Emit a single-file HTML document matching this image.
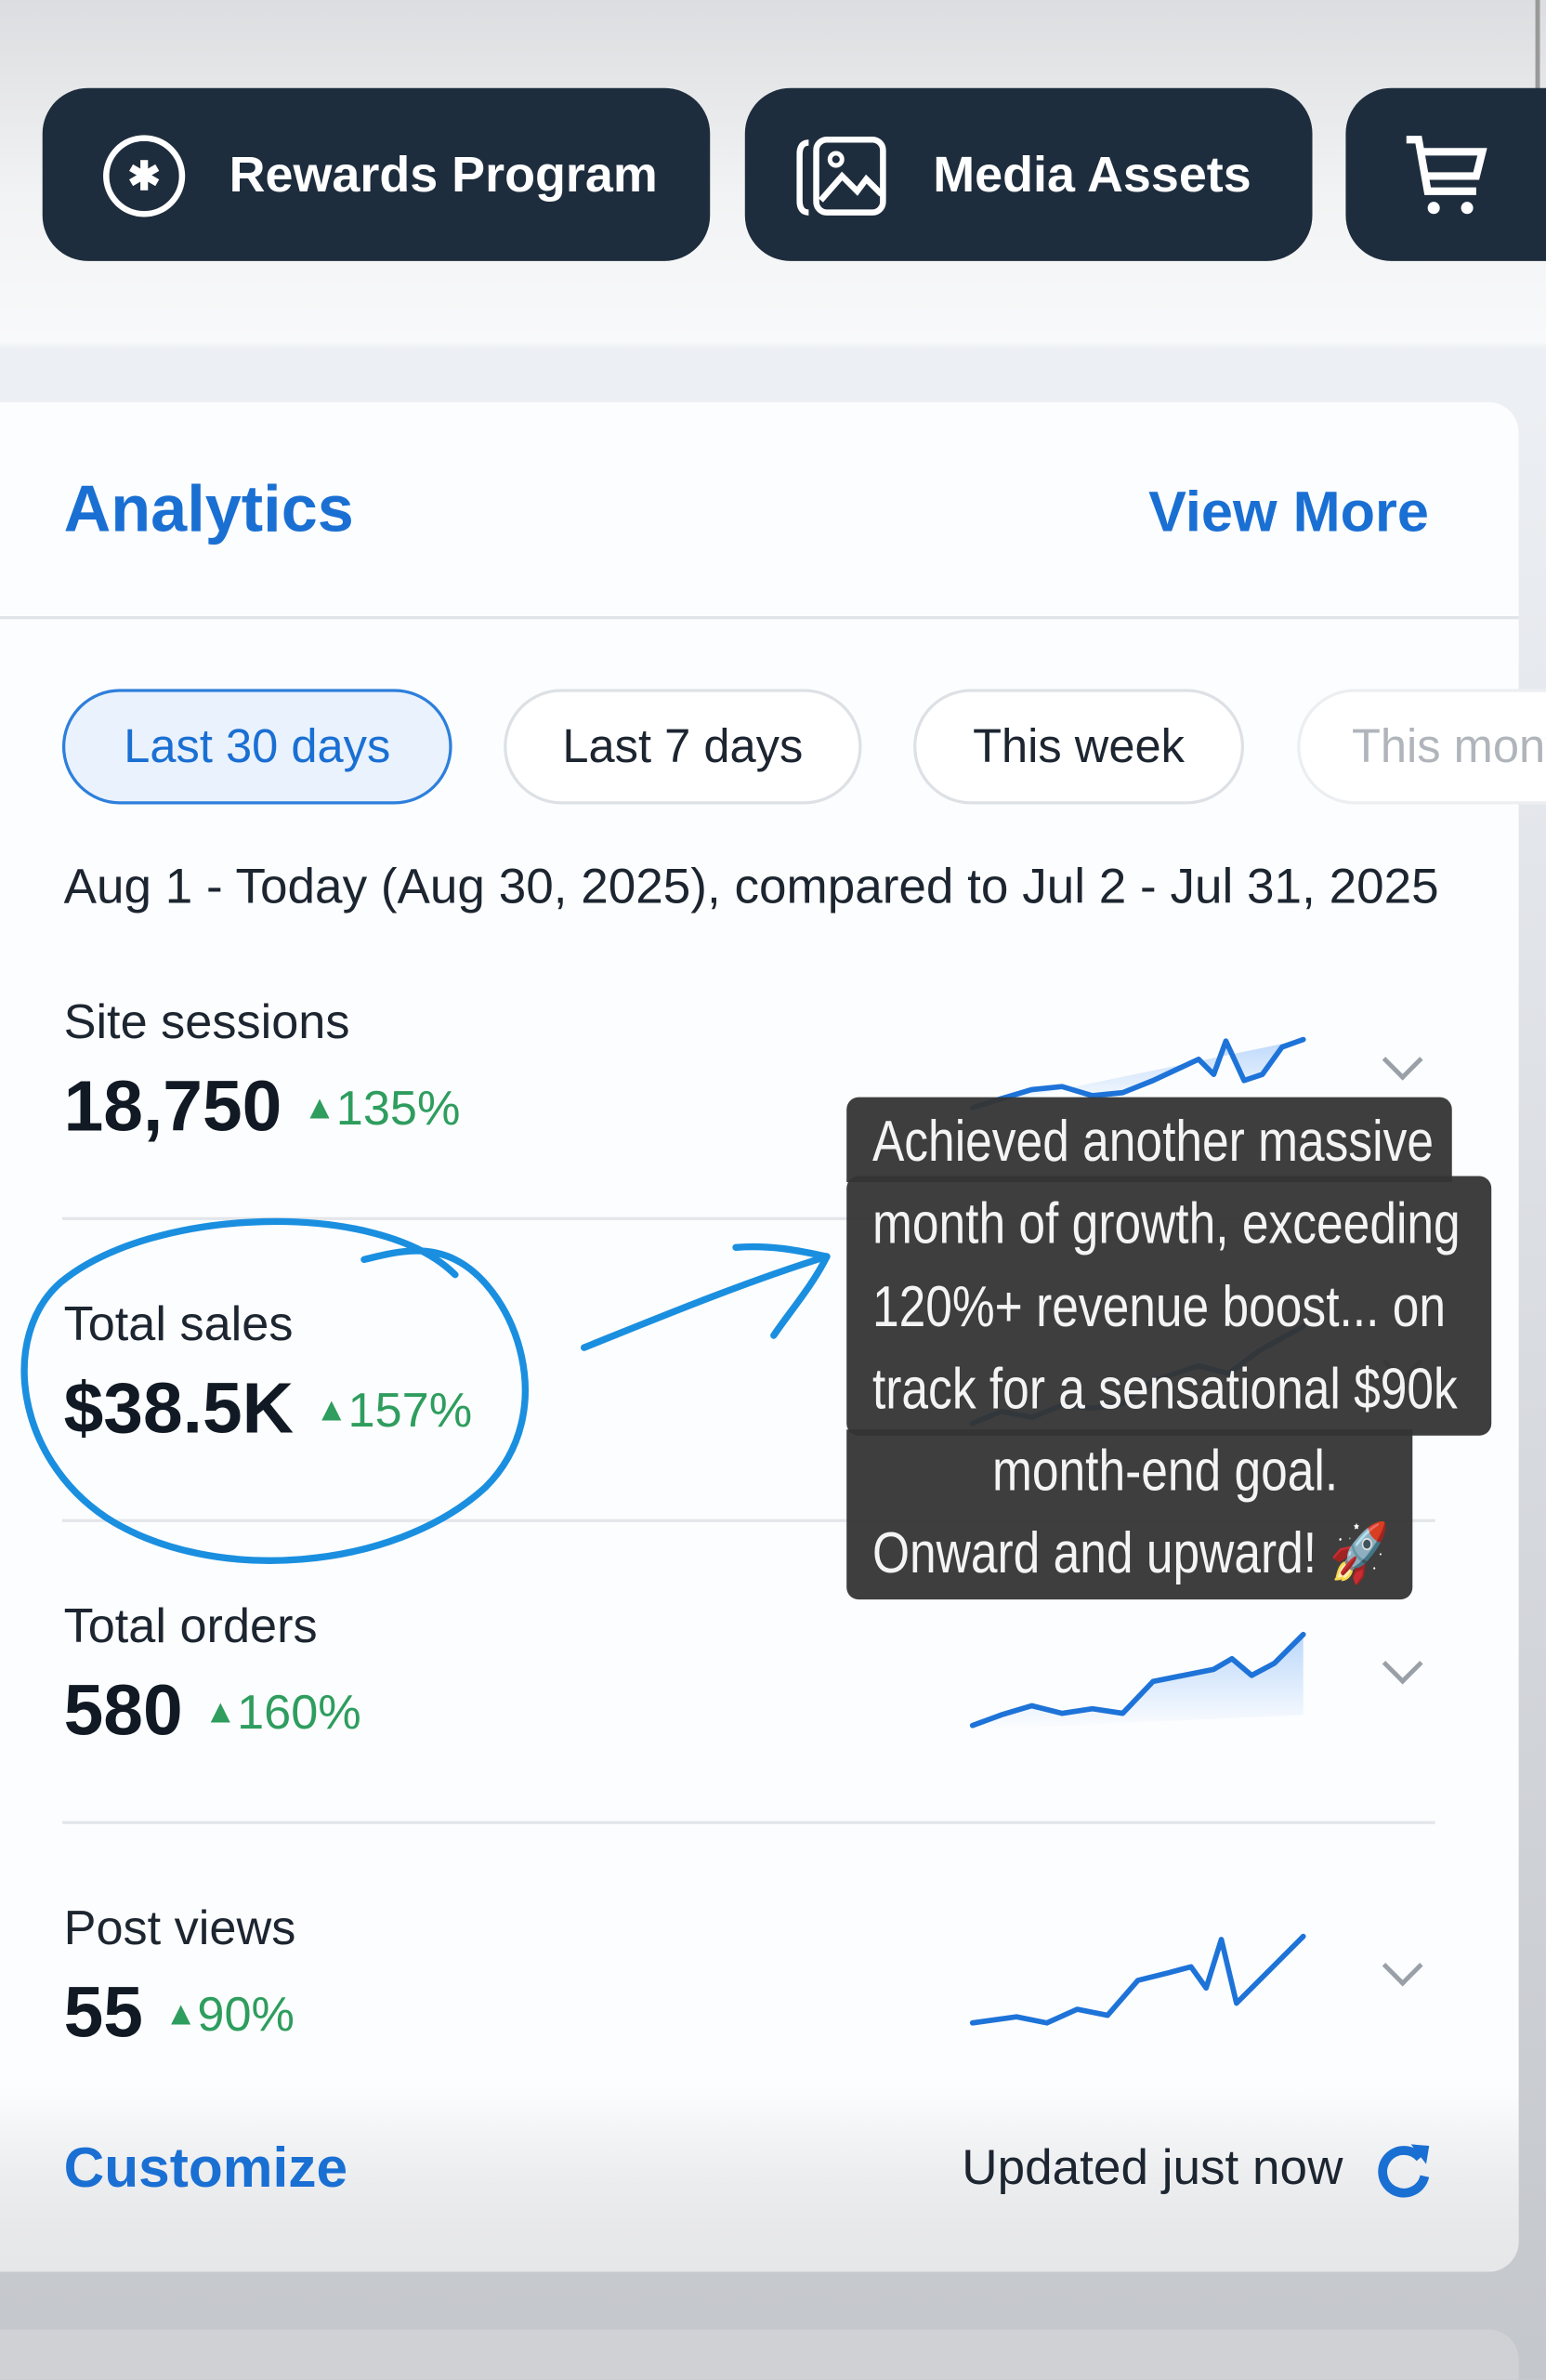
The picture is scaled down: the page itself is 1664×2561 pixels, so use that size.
<!DOCTYPE html>
<html><head><meta charset="utf-8"><style>
html,body{margin:0;padding:0;}
body{width:1664px;height:2560px;overflow:hidden;background:#c9ccd2;font-family:"Liberation Sans",sans-serif;}
#s{position:absolute;left:0;top:0;width:1019px;height:1568px;transform:scale(1.63297);transform-origin:0 0;background:linear-gradient(#dcdde0 0px,#f2f3f4 130px,#f8f9fa 225px,#eceff3 230px,#eceff3 265px,#c4c7cc 1560px);overflow:hidden;}
.a{position:absolute;}
.btn{position:absolute;top:58px;height:114px;background:#1e2d3d;border-radius:30px;color:#fff;font-size:33px;font-weight:bold;}
.btn span{position:absolute;top:38px;}
#card{position:absolute;left:0;top:265px;width:1001px;height:1232px;background:linear-gradient(#fcfdfe 0,#fcfdfe 1110px,#e6e7e9 1232px);border-radius:0 20px 20px 0;}
.pill{position:absolute;top:454px;height:72px;border:2px solid #dde1e6;border-radius:38px;font-size:31px;color:#1c2530;text-align:center;line-height:72px;background:#fff;}
.lbl{position:absolute;left:42px;font-size:32px;color:#1c2530;}
.val{position:absolute;left:42px;font-size:47px;font-weight:bold;color:#111a24;}
.pct{font-size:32px;color:#2e9d5e;font-weight:normal;margin-left:14px;vertical-align:4px;}
.pct small{font-size:22px;vertical-align:4px;}
.div{position:absolute;left:41px;width:905px;height:2px;background:#e3e6ea;}
.chev{position:absolute;left:915px;width:16px;height:16px;border-right:3px solid #9aa0a8;border-bottom:3px solid #9aa0a8;transform:rotate(45deg);}
.tt{position:absolute;background:rgba(52,52,52,0.95);}
.tl{position:absolute;left:575px;color:#f4f4f4;font-family:"Liberation Sans",sans-serif;font-size:38px;white-space:nowrap;line-height:54px;transform:scaleX(0.83);transform-origin:0 0;}
</style></head><body><div id="s">
<div class="a" style="left:0;top:-18px;width:14px;height:14px;border-radius:7px;background:#222"></div>
<div class="a" style="left:1012px;top:0;width:3px;height:60px;background:#999"></div>
<div class="btn" style="left:28px;width:440px;">
 <div class="a" style="left:40px;top:31px;width:54px;height:54px;border:4px solid #fff;border-radius:50%;box-sizing:border-box;text-align:center;line-height:46px;font-size:26px;">✱</div>
 <span style="left:123px">Rewards Program</span></div>
<div class="btn" style="left:491px;width:374px;">
 <svg class="a" style="left:34px;top:30px" width="64" height="56" viewBox="0 0 64 56"><path d="M8 6 Q2 6 2 14 V44 Q2 52 8 52" fill="none" stroke="#fff" stroke-width="4"/><rect x="13" y="4" width="44" height="48" rx="7" fill="none" stroke="#fff" stroke-width="4"/><circle cx="26" cy="17" r="4" fill="none" stroke="#fff" stroke-width="3"/><path d="M16 44 L30 28 L40 38 L46 30 L56 40" fill="none" stroke="#fff" stroke-width="4"/></svg>
 <span style="left:124px">Media Assets</span></div>
<div class="btn" style="left:887px;width:200px;">
 <svg class="a" style="left:36px;top:28px" width="60" height="60" viewBox="0 0 60 60"><path d="M4 6 H12 L18 40 H50" fill="none" stroke="#fff" stroke-width="5"/><path d="M14 14 H54 L50 30 H17" fill="none" stroke="#fff" stroke-width="5"/><circle cx="22" cy="51" r="4" fill="#fff"/><circle cx="44" cy="51" r="4" fill="#fff"/></svg></div>

<div id="card"></div>
<div class="a" style="left:42px;top:312px;font-size:43px;font-weight:bold;color:#1a6fd3">Analytics</div>
<div class="a" style="left:757px;top:316px;font-size:37.5px;font-weight:bold;color:#1a6fd3">View More</div>
<div class="a" style="left:0;top:406px;width:1001px;height:2px;background:#e1e4e8"></div>

<div class="pill" style="left:41px;width:253px;border-color:#2d7fdc;background:#eaf2fd;color:#1a6fd3">Last 30 days</div>
<div class="pill" style="left:332px;width:232px;">Last 7 days</div>
<div class="pill" style="left:602px;width:214px;">This week</div>
<div class="pill" style="left:855px;width:200px;text-align:left;color:#b0b5bb;border-color:#eceef1"><span style="margin-left:34px">This month</span></div>

<div class="a" style="left:42px;top:566px;font-size:32.5px;color:#1c2530;white-space:nowrap">Aug 1 - Today (Aug 30, 2025), compared to Jul 2 - Jul 31, 2025</div>

<div class="lbl" style="top:655px">Site sessions</div>
<div class="val" style="top:701px">18,750<span class="pct"><small>▲</small>135%</span></div>
<div class="div" style="top:802px"></div>
<div class="lbl" style="top:854px">Total sales</div>
<div class="val" style="top:900px">$38.5K<span class="pct"><small>▲</small>157%</span></div>
<div class="div" style="top:1001px"></div>
<div class="lbl" style="top:1053px">Total orders</div>
<div class="val" style="top:1099px">580<span class="pct"><small>▲</small>160%</span></div>
<div class="div" style="top:1200px"></div>
<div class="lbl" style="top:1252px">Post views</div>
<div class="val" style="top:1298px">55<span class="pct"><small>▲</small>90%</span></div>

<div class="chev" style="top:689px"></div>
<div class="chev" style="top:888px"></div>
<div class="chev" style="top:1087px"></div>
<div class="chev" style="top:1286px"></div>

<svg class="a" style="left:0;top:0" width="1019" height="1568">
<defs><linearGradient id="g" x1="0" y1="0" x2="0" y2="1"><stop offset="0" stop-color="#bcd8fb"/><stop offset="1" stop-color="#bcd8fb" stop-opacity="0"/></linearGradient></defs>
<g stroke="#1e73d8" stroke-width="3.5" fill="none" stroke-linejoin="round" stroke-linecap="round">
<path d="M641 730 L660 724 L680 718 L700 716 L720 722 L740 720 L760 712 L790 698 L800 708 L808 686 L820 712 L832 708 L845 690 L859 685" fill="url(#g)"/>
<path d="M641 938 L660 930 L680 934 L700 926 L720 928 L740 925 L760 910 L790 900 L810 905 L830 890 L859 874"/>
<path d="M641 1137 L660 1130 L680 1124 L700 1129 L720 1126 L740 1129 L760 1108 L790 1102 L800 1100 L812 1093 L825 1104 L840 1096 L859 1077 L859 1130 L641 1140 Z" fill="url(#g)" stroke="none"/>
<path d="M641 1137 L660 1130 L680 1124 L700 1129 L720 1126 L740 1129 L760 1108 L790 1102 L800 1100 L812 1093 L825 1104 L840 1096 L859 1077"/>
<path d="M641 1333 L670 1329 L690 1333 L710 1324 L730 1328 L750 1305 L770 1300 L785 1296 L795 1310 L805 1278 L815 1320 L835 1300 L859 1276"/>
</g>
</svg>
<div class="a" style="left:0;top:1380px;width:1001px;height:117px;background:linear-gradient(rgba(252,253,254,0),rgba(230,231,233,0.9));border-radius:0 0 20px 0"></div>

<div class="a" style="left:42px;top:1408px;font-size:37px;font-weight:bold;color:#1a6fd3">Customize</div>
<div class="a" style="left:634px;top:1410px;font-size:32.5px;color:#1c2530">Updated just now</div>
<svg class="a" style="left:906px;top:1410px" width="40" height="40" viewBox="0 0 40 40"><path d="M30 12 A14 14 0 1 0 33 24" fill="none" stroke="#1a6fd3" stroke-width="6"/><path d="M24 3 L36 4 L34 16 Z" fill="#1a6fd3"/></svg>

<div class="a" style="left:0;top:1535px;width:1001px;height:40px;background:#cfd1d5;border-radius:0 20px 0 0"></div>

<div class="tt" style="left:558px;top:723px;width:399px;height:56px;border-radius:8px 8px 0 0"></div>
<div class="tt" style="left:558px;top:775px;width:425px;height:171px;border-radius:8px"></div>
<div class="tt" style="left:558px;top:942px;width:373px;height:112px;border-radius:0 0 8px 8px"></div>
<div class="tl" style="top:726px">Achieved another massive</div>
<div class="tl" style="top:780px">month of growth, exceeding</div>
<div class="tl" style="top:835px">120%+ revenue boost... on</div>
<div class="tl" style="top:889px">track for a sensational $90k</div>
<div class="tl" style="top:943px;left:654px">month-end goal.</div>
<div class="tl" style="top:997px">Onward and upward! 🚀</div>

<svg class="a" style="left:0;top:0" width="1019" height="1568">
<g fill="none" stroke="#1a8fe0" stroke-width="4.5" stroke-linecap="round" stroke-linejoin="round">
<path d="M300 840 C250 790 100 795 40 845 C0 880 10 960 70 1000 C140 1045 260 1035 320 980 C370 930 340 850 300 830 C280 820 260 825 240 830"/>
<path d="M385 888 C430 870 490 845 545 828"/>
<path d="M485 822 C510 820 530 825 545 828 C535 848 520 865 510 880"/>
</g></svg>
</div></body></html>
